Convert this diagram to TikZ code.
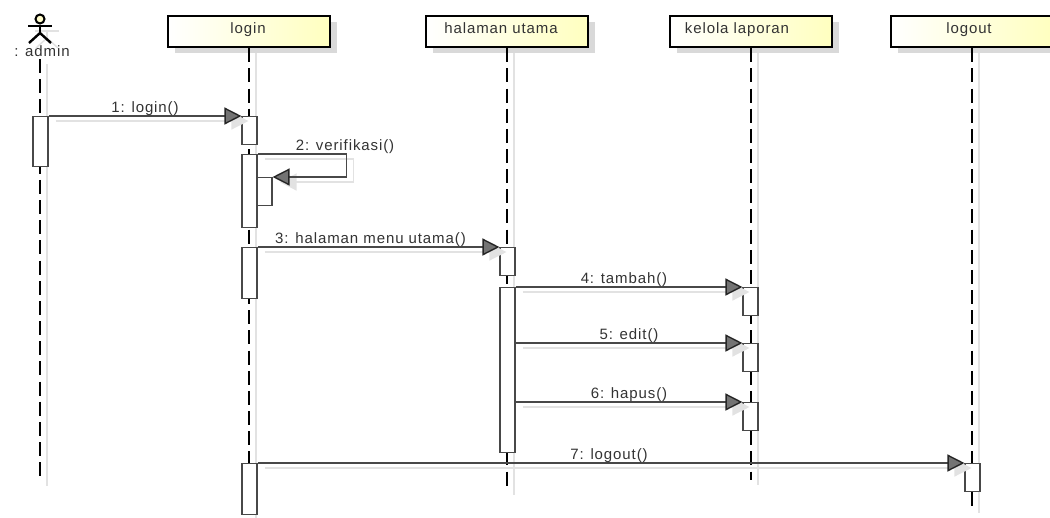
\documentclass[tikz,border=0pt]{standalone}
\usepackage{fontspec}
\setmainfont[LetterSpace=6]{Liberation Sans}
\usetikzlibrary{positioning,arrows.meta,shadows}
\definecolor{lineDark}{HTML}{484848}
\definecolor{textDark}{HTML}{333333}
\definecolor{shadowGray}{HTML}{E2E2E2}
\tikzset{
  headBox/.style={draw=black,line width=2.4pt,left color=white,right color=yellow!25,
    minimum width=162pt,minimum height=31pt,
    drop shadow={shadow xshift=7pt,shadow yshift=-6pt,fill=black!15,opacity=1}},
  actBox/.style={draw=lineDark,line width=1.1pt,fill=white,minimum width=15pt,inner sep=0pt,anchor=north},
  lifeLine/.style={draw=black,line width=1.6pt,dash pattern=on 14pt off 6.16pt},
  lifeShadow/.style={draw=shadowGray,line width=1.5pt,transform canvas={shift={(7pt,-5pt)}}},
  actorLine/.style={line width=2.4pt},
  msgLine/.style={draw=lineDark,line width=1.4pt,-{Triangle[length=17pt,width=17pt,color=black!85,fill=black!55]}},
  msgShadow/.style={draw=shadowGray,line width=1.3pt,-{Triangle[length=17pt,width=17pt,fill=shadowGray]},transform canvas={shift={(7pt,-5pt)}}},
  msgLabel/.style={text=textDark,font=\fontsize{15}{17}\selectfont,inner sep=0pt},
  headText/.style={msgLabel,anchor=base}
}
\begin{document}
\begin{tikzpicture}[x=1pt,y=-1pt]
\path[use as bounding box,clip] (0,0) rectangle (1050,517);
%the head nodes
\node [headBox] (headLogin) at (249,31.5) {};
\node [headBox] (headUtama) at (507,31.5) {};
\node [headBox] (headKelola) at (751,31.5) {};
\node [headBox] (headLogout) at (972,31.5) {};
\node [headText] (txtLogin) at (248,33) {login};
\node [headText] (txtUtama) at (501,33) {halaman utama};
\node [headText] (txtKelola) at (737,33) {kelola laporan};
\node [headText] (txtLogout) at (969,33) {logout};
%the actor
\node [draw=black,line width=2pt,fill=yellow!20,circle,minimum size=9pt,inner sep=0pt] (actorHead) at (40,19) {};
\coordinate (actorHip) at (40,33);
\coordinate (actorLeg) at (29,43);
\coordinate (actorFoot) at (51,43);
\coordinate (actorArmL) at (28,26);
\coordinate (actorArmR) at (52,26);
\node [headText] (actorLabel) at (42,56) {: admin};
\draw [lifeShadow] (actorHead.south) -- (actorHip);
\draw [lifeShadow] (actorArmL) -- (actorArmR);
\draw [lifeShadow] (actorLeg) -- (actorHip) -- (actorFoot);
\draw [actorLine] (actorHead.south) -- (actorHip);
\draw [actorLine] (actorArmL) -- (actorArmR);
\draw [actorLine] (actorLeg) -- (actorHip) -- (actorFoot);
%ends of the lifelines
\coordinate (lifeAdminTop) at (40,59);
\coordinate (lifeAdminEnd) at (40,481);
\coordinate (lifeLoginEnd) at (249,514);
\coordinate (lifeUtamaEnd) at (507,490);
\coordinate (lifeKelolaEnd) at (751,480);
\coordinate (lifeLogoutEnd) at (972,508);
%drawings of lifelines
\draw [lifeShadow] (lifeAdminTop) -- (lifeAdminEnd);
\draw [lifeShadow] (headLogin.south) -- (lifeLoginEnd);
\draw [lifeShadow] (headUtama.south) -- (lifeUtamaEnd);
\draw [lifeShadow] (headKelola.south) -- (lifeKelolaEnd);
\draw [lifeShadow] (headLogout.south) -- (lifeLogoutEnd);
\draw [lifeLine] (lifeAdminTop) -- (lifeAdminEnd);
\draw [lifeLine] (headLogin.south) -- (lifeLoginEnd);
\draw [lifeLine] (headUtama.south) -- (lifeUtamaEnd);
\draw [lifeLine] (headKelola.south) -- (lifeKelolaEnd);
\draw [lifeLine] (headLogout.south) -- (lifeLogoutEnd);
%the activation boxes
\node [actBox,minimum height=50pt] (actAdmin) at (40.5,116) {};
\node [actBox,minimum height=28pt] (actLoginA) at (249.5,116) {};
\node [actBox,minimum height=73pt] (actLoginB) at (249.5,154) {};
\node [actBox,minimum height=28pt] (actLoginC) at (264.5,177) {};
\node [actBox,minimum height=51pt] (actLoginD) at (249.5,247) {};
\node [actBox,minimum height=51pt] (actLoginE) at (249.5,463) {};
\node [actBox,minimum height=28pt] (actUtamaA) at (507.5,247) {};
\node [actBox,minimum height=165pt] (actUtamaB) at (507.5,287) {};
\node [actBox,minimum height=28pt] (actKelolaA) at (750.5,287) {};
\node [actBox,minimum height=28pt] (actKelolaB) at (750.5,343) {};
\node [actBox,minimum height=28pt] (actKelolaC) at (750.5,402) {};
\node [actBox,minimum height=28pt] (actLogout) at (972.5,463) {};
%shadows of messages
\draw [msgShadow] (actAdmin.north east) -- (actLoginA.north west);
\draw [msgShadow] (actLoginB.north east) -- ++(89,0) |- (actLoginC.north east);
\draw [msgShadow] (actLoginD.north east) -- (actUtamaA.north west);
\draw [msgShadow] (actUtamaB.north east) -- (actKelolaA.north west);
\draw [msgShadow] (actUtamaB.east |- actKelolaB.north) -- (actKelolaB.north west);
\draw [msgShadow] (actUtamaB.east |- actKelolaC.north) -- (actKelolaC.north west);
\draw [msgShadow] (actLoginE.north east) -- (actLogout.north west);
%drawings of messages
\draw [msgLine] (actAdmin.north east) -- node [msgLabel,above=0pt] (msgLogin) {1: login()} (actLoginA.north west);
\draw [msgLine] (actLoginB.north east) -- ++(89,0) |- (actLoginC.north east);
\node [msgLabel] (msgVerifikasi) at (345,147) {2: verifikasi()};
\draw [msgLine] (actLoginD.north east) -- node [msgLabel,above=0pt,xshift=-8pt] (msgMenu) {3: halaman menu utama()} (actUtamaA.north west);
\draw [msgLine] (actUtamaB.north east) -- node [msgLabel,above=0pt,xshift=-5pt] (msgTambah) {4: tambah()} (actKelolaA.north west);
\draw [msgLine] (actUtamaB.east |- actKelolaB.north) -- node [msgLabel,above=0pt] (msgEdit) {5: edit()} (actKelolaB.north west);
\draw [msgLine] (actUtamaB.east |- actKelolaC.north) -- node [msgLabel,above=0pt] (msgHapus) {6: hapus()} (actKelolaC.north west);
\draw [msgLine] (actLoginE.north east) -- node [msgLabel,above=0pt,xshift=-2pt] (msgLogout) {7: logout()} (actLogout.north west);
\end{tikzpicture}
\end{document}
